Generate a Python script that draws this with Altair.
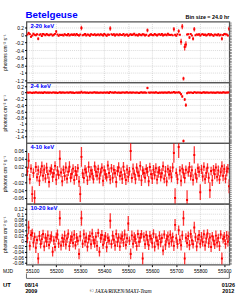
import altair as alt
import pandas as pd

# ---------------- data ----------------
MJD_START = 55080
BIN_STEP = 5
N_BINS = 169
mjd = [MJD_START + BIN_STEP * i for i in range(N_BINS)]

X_DOMAIN = [55076, 55921]
MJD_TICKS = [55100, 55200, 55300, 55400, 55500, 55600, 55700, 55800, 55900]

band_labels = ["2-20 keV", "2-4 keV", "4-10 keV", "10-20 keV"]

p1_val = [0.012, 0.050, 0.021, -0.050, -0.015, 0.030, 0.004, -0.010, 0.018, -0.100,
          0.006, 0.015, -0.030, 0.024, 0.010, -0.008, 0.025, 0.002, -0.012, 0.009,
          0.014, -0.018, 0.005, 0.027, 0.090, 0.011, -0.020, 0.008, -0.006, 0.003,
          -0.013, 0.019, 0.001, -0.009, 0.022, -0.016, 0.007, 0.013, -0.004, 0.017,
          -0.011, 0.024, 0.000, -0.019, 0.010, 0.180, -0.007, 0.006, 0.026, -0.014,
          0.012, 0.004, -0.023, 0.016, 0.008, -0.005, 0.020, -0.012, 0.003, 0.014,
          -0.009, 0.018, 0.007, -0.015, 0.026, 0.002, -0.021, 0.011, 0.005, 0.170,
          0.016, -0.003, 0.021, -0.017, 0.013, 0.009, -0.012, 0.019, 0.001, -0.006,
          0.023, -0.014, 0.008, 0.012, -0.025, 0.004, 0.017, -0.002, 0.010, 0.028,
          -0.011, 0.006, -0.018, 0.015, 0.003, -0.007, 0.020, 0.011, -0.013, 0.005,
          0.120, -0.020, 0.007, 0.016, -0.004, -0.009, 0.022, 0.002, -0.014, 0.010,
          0.018, -0.006, 0.025, -0.016, 0.004, 0.012, -0.010, 0.030, 0.006, -0.003,
          0.008, -0.012, 0.150, 0.003, -0.022, 0.015, 0.100, 0.005, -0.180, 0.220,
          -1.150, -0.320, -0.250, 0.011, 0.020, -0.070, 0.024, -0.017, -0.100, 0.150,
          -0.008, 0.014, 0.002, 0.018, -0.019, 0.009, 0.021, -0.004, 0.013, -0.015,
          0.006, 0.027, -0.010, 0.017, 0.001, -0.021, 0.012, 0.008, -0.007, 0.019,
          -0.013, 0.005, -0.100, -0.002, 0.024, 0.016, 0.010, -0.018, 0.160]
p1_err = [.015, .030, .014, .025, .012, .016, .013, .015, .014, .040,
          .013, .015, .016, .014, .012, .013, .017, .012, .014, .013,
          .015, .014, .012, .016, .040, .013, .015, .012, .014, .013,
          .014, .015, .012, .013, .016, .014, .012, .015, .013, .014,
          .013, .016, .012, .015, .013, .060, .014, .012, .016, .013,
          .014, .012, .015, .014, .013, .012, .016, .013, .012, .015,
          .013, .014, .012, .016, .015, .013, .014, .012, .013, .060,
          .015, .012, .014, .016, .013, .012, .015, .014, .012, .013,
          .016, .013, .012, .014, .017, .012, .015, .013, .012, .016,
          .014, .012, .015, .013, .012, .014, .016, .013, .015, .012,
          .050, .015, .012, .014, .013, .012, .016, .013, .014, .012,
          .015, .013, .016, .014, .012, .013, .014, .017, .012, .013,
          .013, .014, .060, .012, .016, .014, .050, .013, .080, .070,
          .050, .090, .080, .014, .016, .040, .015, .014, .050, .060,
          .013, .014, .012, .015, .016, .013, .015, .012, .014, .015,
          .012, .016, .013, .014, .012, .015, .013, .012, .014, .015,
          .014, .012, .050, .013, .016, .014, .013, .015, .060]

p2_val = [0.004, -0.006, 0.010, 0.002, -0.008, 0.007, -0.003, 0.012, 0.001, -0.005,
          0.008, -0.002, 0.005, -0.009, 0.011, 0.003, -0.004, 0.006, 0.000, 0.009,
          -0.007, 0.004, 0.010, -0.001, 0.006, -0.008, 0.002, 0.013, -0.005, 0.003,
          0.007, -0.003, 0.001, 0.009, -0.006, 0.004, 0.011, -0.002, 0.005, -0.009,
          0.002, 0.008, -0.004, 0.006, 0.000, 0.030, -0.007, 0.010, 0.003, -0.002,
          0.005, -0.008, 0.009, 0.001, -0.003, 0.007, 0.012, -0.005, 0.004, 0.000,
          -0.006, 0.008, 0.002, -0.001, 0.010, -0.004, 0.006, 0.003, -0.009, 0.025,
          0.001, 0.007, -0.005, 0.011, 0.002, -0.003, 0.008, 0.000, -0.006, 0.005,
          0.009, -0.002, 0.004, 0.012, -0.007, 0.003, 0.006, -0.004, 0.010, 0.001,
          -0.005, 0.008, 0.002, -0.009, 0.006, 0.011, -0.001, 0.004, 0.007, -0.003,
          0.150, 0.003, -0.006, 0.009, 0.001, 0.005, -0.004, 0.012, 0.002, -0.008,
          0.006, 0.000, 0.010, -0.005, 0.004, 0.008, -0.002, 0.003, 0.011, -0.007,
          0.005, 0.002, 0.020, -0.004, 0.009, 0.001, 0.015, -0.006, -0.050, -0.120,
          -1.550, -0.220, -0.400, -0.020, 0.007, -0.003, 0.010, 0.002, -0.015, 0.018,
          0.004, -0.005, 0.009, 0.001, 0.006, -0.008, 0.003, 0.011, -0.002, 0.005,
          0.008, -0.004, 0.002, 0.010, -0.006, 0.007, 0.000, -0.003, 0.009, 0.004,
          -0.001, 0.006, -0.007, 0.012, 0.003, -0.002, 0.008, 0.005, 0.010]
p2_err = [.008, .007, .009, .007, .008, .007, .006, .008, .007, .009,
          .007, .006, .008, .007, .009, .007, .006, .008, .007, .008,
          .007, .008, .006, .007, .008, .009, .007, .006, .008, .007,
          .006, .007, .008, .007, .006, .008, .009, .007, .006, .008,
          .007, .008, .006, .007, .009, .020, .007, .008, .006, .007,
          .008, .007, .006, .009, .007, .008, .007, .006, .008, .007,
          .007, .006, .008, .007, .009, .006, .007, .008, .007, .020,
          .008, .007, .006, .008, .007, .009, .006, .007, .008, .007,
          .006, .008, .007, .009, .007, .006, .008, .007, .006, .008,
          .007, .006, .008, .007, .009, .007, .006, .008, .007, .006,
          .040, .007, .008, .006, .007, .009, .007, .008, .006, .007,
          .008, .007, .006, .008, .007, .009, .006, .007, .008, .007,
          .007, .008, .015, .007, .006, .008, .012, .007, .030, .040,
          .050, .050, .060, .015, .008, .007, .009, .006, .012, .015,
          .007, .008, .006, .007, .009, .007, .008, .006, .007, .008,
          .006, .007, .008, .007, .006, .009, .007, .008, .006, .007,
          .008, .007, .006, .009, .007, .008, .006, .007, .008]

p3_val = [0.008, 0.035, -0.012, 0.015, -0.050, 0.004, -0.060, 0.019, -0.007, 0.011,
          -0.016, 0.006, 0.021, -0.003, 0.013, -0.010, 0.017, 0.001, -0.019, 0.009,
          0.014, -0.006, 0.003, 0.022, -0.013, 0.010, -0.001, 0.040, 0.005, -0.017,
          0.012, -0.004, 0.018, -0.011, 0.007, 0.020, -0.008, 0.002, 0.015, -0.014,
          0.009, -0.002, 0.016, -0.018, -0.050, 0.045, 0.003, -0.009, 0.013, 0.006,
          -0.015, 0.019, -0.005, 0.010, 0.002, -0.012, 0.021, 0.007, -0.003, 0.014,
          -0.010, 0.005, 0.017, -0.016, 0.011, 0.000, -0.007, 0.023, 0.004, -0.013,
          0.016, -0.008, 0.012, 0.003, -0.019, 0.009, 0.018, -0.004, 0.006, -0.011,
          0.020, 0.001, -0.014, 0.013, -0.006, 0.008, 0.060, -0.009, 0.015, 0.002,
          -0.012, 0.017, 0.005, -0.003, 0.022, -0.015, 0.010, 0.004, -0.008, 0.014,
          0.007, -0.017, 0.019, 0.001, -0.010, 0.012, -0.002, 0.016, -0.013, 0.006,
          0.011, -0.006, 0.003, 0.021, -0.011, 0.008, -0.018, 0.014, 0.000, 0.009,
          -0.007, 0.018, 0.055, -0.060, 0.004, -0.012, 0.070, 0.010, -0.016, 0.015,
          0.003, -0.009, 0.012, -0.065, 0.006, 0.019, -0.004, 0.011, -0.014, 0.050,
          0.002, -0.010, 0.016, 0.007, -0.045, 0.013, -0.005, 0.020, -0.012, 0.004,
          0.017, -0.008, -0.040, 0.009, -0.015, 0.012, 0.001, 0.018, -0.006, 0.010,
          -0.013, 0.006, 0.021, -0.003, 0.014, -0.011, 0.008, 0.015, -0.030]
p3_err = [.012, .020, .013, .011, .020, .012, .020, .013, .011, .012,
          .013, .011, .012, .014, .012, .011, .013, .012, .014, .011,
          .012, .013, .011, .012, .014, .012, .011, .022, .012, .013,
          .011, .012, .013, .012, .011, .014, .012, .013, .011, .012,
          .013, .012, .011, .014, .020, .025, .012, .013, .011, .012,
          .012, .014, .011, .012, .013, .011, .012, .014, .012, .011,
          .013, .011, .012, .014, .012, .013, .011, .012, .013, .012,
          .011, .013, .012, .011, .014, .012, .013, .011, .012, .013,
          .012, .011, .013, .012, .014, .011, .025, .012, .013, .011,
          .013, .012, .011, .013, .012, .014, .011, .012, .013, .012,
          .012, .013, .011, .012, .014, .012, .011, .013, .012, .014,
          .011, .012, .013, .012, .011, .014, .012, .011, .013, .012,
          .013, .012, .025, .025, .012, .013, .028, .012, .014, .011,
          .012, .013, .011, .025, .012, .013, .011, .012, .014, .022,
          .013, .011, .012, .014, .020, .012, .013, .011, .012, .013,
          .012, .013, .020, .011, .014, .012, .013, .011, .012, .013,
          .011, .012, .013, .014, .012, .011, .013, .012, .018]

p4_val = [0.010, 0.050, -0.018, 0.022, 0.030, -0.006, 0.015, -0.025, 0.004, -0.065,
          0.019, -0.011, 0.007, 0.026, -0.020, 0.012, -0.003, 0.021, -0.015, 0.008,
          0.017, -0.040, 0.002, -0.022, 0.014, 0.024, -0.009, 0.085, -0.017, 0.011,
          -0.004, 0.020, -0.013, 0.009, 0.027, -0.019, 0.005, 0.016, -0.007, 0.023,
          -0.016, 0.012, 0.001, -0.048, 0.018, 0.085, -0.010, 0.025, -0.002, 0.013,
          -0.021, 0.007, 0.019, -0.012, 0.028, 0.003, -0.008, 0.016, -0.018, 0.030,
          -0.040, 0.010, 0.022, -0.014, 0.006, 0.017, -0.023, 0.011, 0.002, 0.075,
          -0.011, 0.020, 0.005, -0.017, 0.026, -0.004, 0.013, -0.020, 0.009, 0.018,
          -0.006, 0.024, -0.015, 0.010, 0.065, 0.001, -0.048, 0.021, -0.010, 0.014,
          0.007, -0.019, 0.026, -0.003, 0.012, 0.025, -0.065, 0.016, -0.012, 0.022,
          0.004, -0.016, 0.019, 0.009, -0.008, 0.027, -0.021, 0.013, 0.001, -0.013,
          0.020, -0.005, 0.011, -0.035, 0.024, -0.014, 0.008, 0.017, -0.009, 0.023,
          -0.002, 0.015, -0.018, 0.060, 0.010, -0.011, 0.040, 0.005, -0.016, 0.021,
          0.085, -0.065, 0.012, -0.007, 0.019, -0.015, 0.026, 0.003, -0.012, 0.050,
          0.014, -0.020, 0.007, 0.022, -0.010, 0.016, -0.004, 0.025, -0.017, 0.009,
          0.028, -0.008, 0.013, -0.022, 0.018, 0.002, -0.013, 0.020, -0.006, 0.011,
          -0.019, 0.024, -0.065, 0.008, 0.015, -0.011, 0.021, -0.003, 0.017]
p4_err = [.018, .025, .017, .019, .016, .018, .017, .020, .016, .020,
          .018, .017, .019, .016, .018, .017, .019, .018, .016, .017,
          .019, .018, .017, .016, .018, .019, .017, .028, .018, .016,
          .017, .018, .019, .016, .017, .018, .016, .019, .017, .018,
          .016, .018, .017, .020, .019, .028, .016, .018, .017, .019,
          .018, .016, .017, .019, .018, .016, .017, .018, .019, .016,
          .018, .017, .019, .016, .018, .017, .019, .018, .016, .028,
          .017, .018, .016, .019, .017, .018, .016, .017, .019, .018,
          .016, .019, .017, .018, .028, .016, .020, .018, .017, .019,
          .018, .017, .016, .019, .018, .016, .022, .017, .018, .016,
          .019, .017, .018, .016, .019, .017, .018, .016, .017, .019,
          .016, .018, .017, .018, .016, .019, .017, .018, .016, .017,
          .018, .017, .019, .022, .017, .018, .018, .016, .019, .017,
          .028, .022, .017, .018, .016, .019, .017, .018, .016, .022,
          .017, .018, .016, .019, .017, .018, .016, .017, .019, .018,
          .016, .018, .017, .019, .016, .018, .017, .019, .018, .016,
          .018, .016, .022, .017, .019, .018, .016, .017, .018]

y_domains = [[-1.25, 0.35], [-1.62, 0.33], [-0.075, 0.08], [-0.088, 0.138]]
y_ticks = [[-1.2, -1.0, -0.8, -0.6, -0.4, -0.2, 0.0, 0.2],
           [-1.4, -1.2, -1.0, -0.8, -0.6, -0.4, -0.2, 0.0, 0.2],
           [-0.06, -0.04, -0.02, 0.0, 0.02, 0.04, 0.06],
           [-0.08, -0.06, -0.04, -0.02, 0.0, 0.02, 0.04, 0.06, 0.08, 0.10, 0.12]]
y_minor_step = [0.04, 0.04, 0.005, 0.005]

title_text = "Betelgeuse"
bin_text = "Bin size = 24.0 hr"
ytitle = "photons cm⁻² s⁻¹"
ut_start = ["08/14", "2009"]
ut_end = ["01/26", "2012"]
credit = "© JAXA/RIKEN/MAXI-Team"

# ---------------- layout ----------------
W = 207
H = 62
FONT = "Liberation Sans"
RED = "#ff0000"
BLUE = "#0000ff"
GRID = "#b4b4b4"

panels_vals = [p1_val, p2_val, p3_val, p4_val]
panels_errs = [p1_err, p2_err, p3_err, p4_err]


def one_text(txt, x, y, **kw):
    return alt.Chart(pd.DataFrame({"t": [txt]})).mark_text(**kw).encode(
        x=alt.value(x), y=alt.value(y), text="t:N")


def guide_rule(**enc):
    return alt.Chart(pd.DataFrame({"a": [0]})).mark_rule(
        color="#444", strokeWidth=0.8).encode(**enc)


def minor_ticks(dom, step):
    out = []
    v = round(dom[0] / step) * step
    while v <= dom[1]:
        if v >= dom[0]:
            out.append(round(v, 5))
        v += step
    return out


def panel(k):
    vals = panels_vals[k]
    errs = panels_errs[k]
    n = min(len(mjd), len(vals), len(errs))
    df = pd.DataFrame({
        "mjd": mjd[:n],
        "rate": vals[:n],
        "lo": [vals[i] - errs[i] for i in range(n)],
        "hi": [vals[i] + errs[i] for i in range(n)],
    })
    last = k == 3
    xscale = alt.Scale(domain=X_DOMAIN, nice=False, zero=False)
    yscale = alt.Scale(domain=y_domains[k], nice=False, zero=False)
    xaxis = alt.Axis(values=MJD_TICKS, labels=last, ticks=last, title=None,
                     format="d", grid=True, gridDash=[1, 1], gridColor=GRID,
                     gridWidth=0.5, domain=False, tickSize=2, labelFontSize=5,
                     labelFont=FONT, labelPadding=2, labelColor="#000",
                     tickColor="#000", labelOverlap=False, labelFlush=False)
    yaxis = alt.Axis(values=y_ticks[k], title=ytitle, titleFontSize=5,
                     titleFont=FONT, titleFontWeight="normal", titlePadding=2,
                     titleColor="#000",
                     labelExpr="toString(round(datum.value*1000)/1000)",
                     labelFontSize=5, labelFont=FONT, labelColor="#000",
                     labelPadding=1, tickSize=2, tickColor="#000",
                     labelOverlap=False, labelFlush=False, labelBound=False,
                     grid=True, gridDash=[1, 1], gridColor=GRID,
                     gridWidth=0.5, domain=False, minExtent=17, maxExtent=17)
    yaxis_r = alt.Axis(orient="right", values=minor_ticks(y_domains[k], y_minor_step[k]),
                       labels=False, title=None, grid=False, domain=False,
                       tickSize=2, tickColor="#444", tickWidth=0.6,
                       minExtent=2, maxExtent=2)
    bars = alt.Chart(df).mark_rule(color=RED, strokeWidth=1.3, opacity=0.8,
                                   clip=True).encode(
        x=alt.X("mjd:Q", scale=xscale, axis=xaxis),
        y=alt.Y("lo:Q", scale=yscale, axis=yaxis),
        y2="hi:Q")
    pts = alt.Chart(df).mark_square(color=RED, size=4, opacity=1,
                                    clip=True).encode(
        x=alt.X("mjd:Q", scale=xscale, axis=xaxis),
        y=alt.Y("rate:Q", scale=yscale, axis=yaxis_r))
    lab = one_text(band_labels[k], 4, 6, align="left", baseline="alphabetic",
                   fontSize=6, font=FONT, fontWeight="bold", color=BLUE)
    layers = [bars, pts, lab]
    if k == 0:
        layers.append(one_text(title_text, -1, -4, align="left",
                               baseline="alphabetic", fontSize=10, font=FONT,
                               fontWeight="bold", color=BLUE))
        layers.append(one_text(bin_text, W, -3, align="right",
                               baseline="alphabetic", fontSize=5.5, font=FONT,
                               fontWeight="bold", color="#000"))
    if last:
        layers.append(one_text("MJD", -24, H + 6, align="left",
                               baseline="middle", fontSize=5, font=FONT,
                               color="#000"))
        layers.append(one_text("UT", -24, H + 21, align="left",
                               baseline="middle", fontSize=6, font=FONT,
                               fontWeight="bold", color="#000"))
        layers.append(guide_rule(x=alt.value(0), x2=alt.value(W),
                                 y=alt.value(H + 14)))
        layers.append(guide_rule(x=alt.value(0), y=alt.value(H + 9),
                                 y2=alt.value(H + 14)))
        layers.append(guide_rule(x=alt.value(W), y=alt.value(H + 8),
                                 y2=alt.value(H + 14)))
        for txt, xx, yy in [(ut_start[0], 5, H + 21), (ut_start[1], 5, H + 27),
                            (ut_end[0], W - 1, H + 21), (ut_end[1], W - 1, H + 27)]:
            layers.append(one_text(txt, xx, yy, align="center",
                                   baseline="middle", fontSize=5.5, font=FONT,
                                   fontWeight="bold", color="#000"))
        layers.append(one_text(credit, 96, H + 27, align="center",
                               baseline="middle", fontSize=5.5,
                               font="Liberation Serif", fontStyle="italic",
                               color="#000"))
    return alt.layer(*layers).resolve_axis(y="independent").properties(
        width=W, height=H)


chart = alt.vconcat(*[panel(k) for k in range(4)], spacing=0,
                    bounds="flush").properties(
    padding={"left": 2, "top": 6, "right": 10, "bottom": 2},
    background="white",
).configure_view(stroke="#555", strokeWidth=1.3).configure_axis(
    labelOverlap=False)

chart.save("out.html", embed_options={"renderer": "svg", "actions": False})
